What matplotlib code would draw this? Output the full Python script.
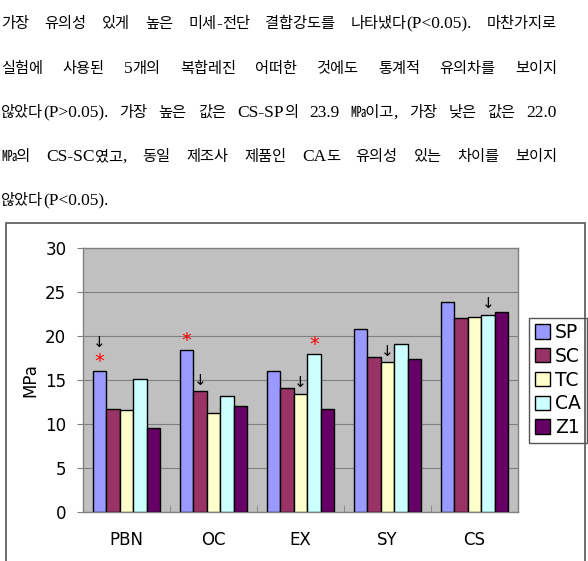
import matplotlib
matplotlib.use('Agg')
import matplotlib.pyplot as plt
import numpy as np
import re
from matplotlib.patches import Rectangle

# chart data (MPa)
groups = ['PBN', 'OC', 'EX', 'SY', 'CS']
series = ['SP', 'SC', 'TC', 'CA', 'Z1']
sp = [16.0, 18.4, 16.0, 20.8, 23.9]
sc = [11.7, 13.7, 14.05, 17.6, 22.0]
tc = [11.6, 11.25, 13.45, 17.0, 22.15]
ca = [15.15, 13.2, 17.9, 19.05, 22.4]
z1 = [9.5, 12.1, 11.7, 17.4, 22.7]
colors = ['#9999FF', '#993366', '#FFFFCC', '#CCFFFF', '#660066']

# bars marked with an arrow / a red star
arrow_marks = [('PBN', 'SP'), ('OC', 'SC'), ('EX', 'TC'), ('SY', 'TC'), ('CS', 'CA')]
star_marks = [('PBN', 'SP'), ('OC', 'SP'), ('EX', 'CA')]

# paragraph above the chart
text_lines = [
    '가장 유의성 있게 높은 미세-전단 결합강도를 나타냈다(P<0.05). 마찬가지로',
    '실험에 사용된 5개의 복합레진 어떠한 것에도 통계적 유의차를 보이지',
    '않았다(P>0.05). 가장 높은 값은 CS-SP의 23.9 ㎫이고, 가장 낮은 값은 22.0',
    '㎫의 CS-SC였고, 동일 제조사 제품인 CA도 유의성 있는 차이를 보이지',
    '않았다(P<0.05).',
]

W, H = 588, 561
fig = plt.figure(figsize=(W / 100, H / 100), dpi=100)
renderer = fig.canvas.get_renderer()

HANGUL = '\uac00-\ud7a3\u33ab'


# one word -> text pieces, Hangul in a gothic face, the rest in a serif face
def make_word(word, y):
    pieces = []
    for run in re.findall('[' + HANGUL + ']+|[^' + HANGUL + ']+', word):
        if re.match('[' + HANGUL + ']', run):
            t = fig.text(0, y, run, fontsize=11, family='Noto Sans CJK KR', va='baseline')
        else:
            t = fig.text(0, y, run, fontsize=12.5, family='Liberation Serif', va='baseline')
        pieces.append((t, t.get_window_extent(renderer).width))
    return pieces


# justified paragraph
line_y = [23, 68, 112, 156, 200]
left_px, right_px = 1, 557
for k, line in enumerate(text_lines):
    base = 1 - (line_y[k] + 5) / H
    words = [make_word(w, base) for w in line.split(' ')]
    widths = [sum(p[1] for p in w) for w in words]
    if k < len(text_lines) - 1:
        gap = (right_px - left_px - sum(widths)) / (len(words) - 1)
    else:
        gap = 4
    x = left_px
    for w, ww in zip(words, widths):
        xx = x
        for t, tw in w:
            t.set_x(xx / W)
            xx += tw
        x += ww + gap

# outer chart frame
fig.patches.append(Rectangle((6 / W, -0.02), (585 - 6) / W, 1.02 - 223 / H,
                             transform=fig.transFigure, fill=False,
                             edgecolor='#555555', lw=1.2))

ax = fig.add_axes([83 / W, (H - 512) / H, (518 - 83) / W, (512 - 248) / H])
ax.set_facecolor('#C0C0C0')

data = [sp, sc, tc, ca, z1]
width = 0.154
x = np.arange(len(groups))
for j, (name, vals, col) in enumerate(zip(series, data, colors)):
    ax.bar(x + (j - 2) * width, vals, width, color=col, edgecolor='black',
           linewidth=1, label=name, zorder=3)

for g, s in star_marks:
    i, j = groups.index(g), series.index(s)
    h = data[j][i]
    ax.text(i + (j - 2) * width, h + 1.1, '*', color='red', fontsize=14,
            ha='center', va='center', zorder=4)
for g, s in arrow_marks:
    i, j = groups.index(g), series.index(s)
    h = data[j][i]
    off = 2.4 if (g, s) in star_marks else 0.4
    ax.text(i + (j - 2) * width, h + off, '↓', color='black', fontsize=11,
            ha='center', va='bottom', zorder=4)

ax.set_xlim(-0.5, 4.5)
ax.set_ylim(0, 30)
ax.set_yticks(range(0, 31, 5))
ax.yaxis.grid(True, color='#808080', lw=0.8, zorder=0)
ax.set_axisbelow(True)
ax.set_xticks(x)
ax.set_xticklabels(groups)
ax.set_xticks(np.arange(0.5, 4.5, 1), minor=True)
ax.tick_params(axis='x', which='major', length=0, pad=14, labelsize=12)
ax.tick_params(axis='x', which='minor', direction='in', length=5, color='#808080')
ax.tick_params(axis='y', length=4, color='#808080', pad=8, labelsize=12)
for sp_ in ax.spines.values():
    sp_.set_color('#808080')
    sp_.set_linewidth(1)
ax.set_ylabel('MPa', fontsize=12, labelpad=4)

leg = ax.legend(loc='center left', bbox_to_anchor=(529 / W, 1 - 380 / H),
                bbox_transform=fig.transFigure, fontsize=13.5, fancybox=False,
                edgecolor='#555555', framealpha=1, handlelength=0.8,
                handleheight=0.8, handletextpad=0.3, borderpad=0.3,
                labelspacing=0.25, borderaxespad=0)
leg.get_frame().set_linewidth(1)

fig.savefig('out.png', dpi=100)
